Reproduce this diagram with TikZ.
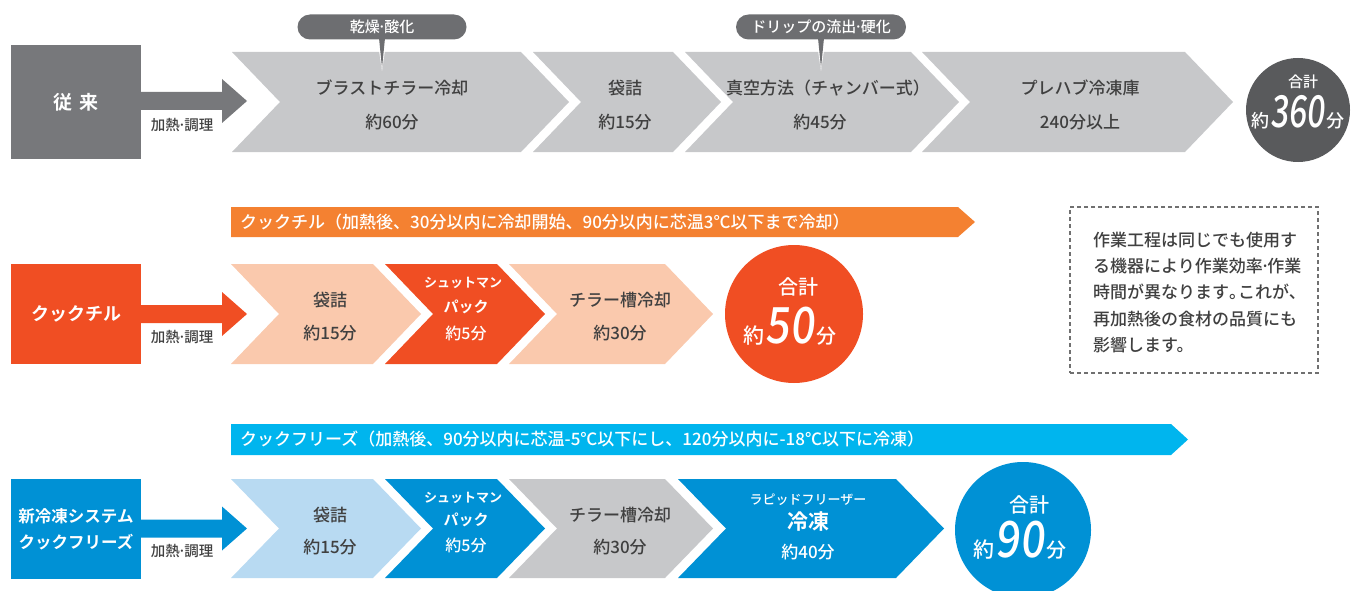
\documentclass[tikz,border=0pt]{standalone}
\usepackage{fontspec}
\setmainfont{Noto Sans CJK JP Medium}[BoldFont={Noto Sans CJK JP Bold}]
\newfontfamily\numA[FakeSlant=0.1,FakeStretch=0.85]{Noto Sans CJK JP Medium}
\newfontfamily\numB[FakeSlant=0.1,FakeStretch=0.72]{Noto Sans CJK JP Medium}
\newcommand\fs[1]{\fontsize{#1}{#1}\selectfont}
\newcommand\fsb[2]{\fontsize{#1}{#2}\selectfont}
\newcommand\md{\makebox[4.5pt]{·}}
\definecolor{gbox}{HTML}{77787B}
\definecolor{gchev}{HTML}{C7C8CA}
\definecolor{callg}{HTML}{6D6E71}
\definecolor{cgray}{HTML}{595A5C}
\definecolor{txt}{HTML}{404040}
\definecolor{orng}{HTML}{F48131}
\definecolor{redo}{HTML}{F04E23}
\definecolor{peach}{HTML}{FAC9AD}
\definecolor{cyanb}{HTML}{00B5EE}
\definecolor{blue}{HTML}{0091D5}
\definecolor{lblue}{HTML}{B8DAF2}
\definecolor{notec}{HTML}{707070}
\newcommand\chev[5]{\fill[#1] (#2,#4) -- (#3,#4) -- ({#3+48},{(#4+#5)/2}) -- (#3,#5) -- (#2,#5) -- ({#2+48},{(#4+#5)/2}) -- cycle;}
\tikzset{
  rowbox/.style={inner sep=0pt, minimum width=130pt, text=white, font=\bfseries\fs{18}, align=center},
  lbl/.style={inner sep=0pt, text=txt, font=\fs{17}},
  wlbl/.style={inner sep=0pt, text=white, font=\fs{16}},
  small/.style={inner sep=0pt, text=txt, font=\fs{14.5}},
  callbox/.style={fill=callg, rounded corners=12.5pt, minimum height=25pt, inner sep=0pt, text=white, font=\fs{15}},
  bantext/.style={inner sep=0pt, anchor=west, text=white, font=\fs{17}},
  tot/.style={circle, inner sep=0pt},
}
\begin{document}
\begin{tikzpicture}[x=1pt,y=-1pt]
\useasboundingbox (0,0) rectangle (1351,591);
% ---------------- row 1
\node[rowbox, fill=gbox, minimum height=114pt, font=\bfseries\fs{19}] (b1) at (76,102) {従\hspace{7pt}来};
\coordinate (a1s) at (141,101);
\fill[gbox] (a1s) ++(0,-9) -- ++(81,0) -- ++(0,-13) -- ++(25,22) -- ++(-25,22) -- ++(0,-13) -- ++(-81,0) -- cycle;
\node[small] (k1) at (182,125) {加熱\md 調理};
\chev{gchev}{232}{521}{52}{152}
\chev{gchev}{533}{673}{52}{152}
\chev{gchev}{685}{911}{52}{152}
\chev{gchev}{922}{1185}{52}{152}
\node[lbl] (p11) at (392,88) {ブラストチラー冷却};
\node[lbl] (q11) at (392,122) {約60分};
\node[lbl] (p12) at (625,88) {袋詰};
\node[lbl] (q12) at (625,122) {約15分};
\node[lbl] (p13) at (828,88) {真空方法（チャンバー式）};
\node[lbl] (q13) at (820,122) {約45分};
\node[lbl] (p14) at (1080,88) {プレハブ冷凍庫};
\node[lbl] (q14) at (1080,122) {240分以上};
% callouts
\node[callbox, minimum width=169pt] (c1) at (382,27) {乾燥\md 酸化};
\fill[white] (377.5,40) -- (386.5,40) -- (382,71) -- cycle;
\fill[callg] (379,38) -- (385,38) -- (382,68) -- cycle;
\node[callbox, minimum width=170pt] (c2) at (821,27) {ドリップの流出\md 硬化};
\fill[white] (816.5,40) -- (825.5,40) -- (821,71) -- cycle;
\fill[callg] (818,38) -- (824,38) -- (821,68) -- cycle;
% total 1
\node[tot, fill=cgray, minimum size=104pt] (t1) at (1298,110) {};
\node[inner sep=0pt, text=white, font=\fs{15}] (t1a) at (1303,82) {合計};
\node[inner sep=0pt, text=white, anchor=base] (t1b) at (1298,128) {\fs{18}約\hspace{1pt}{\numB\fs{44}360}\hspace{2pt}\fs{18}分};
% ---------------- row 2
\fill[orng] (231,207) -- (958,207) -- (975,222) -- (958,237) -- (231,237) -- cycle;
\node[bantext] (ban2) at (240,222) {クックチル（加熱後、30分以内に冷却開始、90分以内に芯温3℃以下まで冷却）};
\node[rowbox, fill=redo, minimum height=100pt] (b2) at (76,314) {クックチル};
\coordinate (a2s) at (141,314);
\fill[redo] (a2s) ++(0,-9) -- ++(81,0) -- ++(0,-13) -- ++(25,22) -- ++(-25,22) -- ++(0,-13) -- ++(-81,0) -- cycle;
\node[small] (k2) at (182,337) {加熱\md 調理};
\chev{peach}{231}{373}{264}{364}
\chev{redo}{385}{497}{264}{364}
\chev{peach}{509}{665}{264}{364}
\node[lbl] (p21) at (330,300) {袋詰};
\node[lbl] (q21) at (330,333) {約15分};
\node[inner sep=0pt, text=white, font=\bfseries\fs{13}] (p22) at (463,283) {シュットマン};
\node[inner sep=0pt, text=white, font=\bfseries\fs{15}] (r22) at (466,307) {パック};
\node[wlbl] (q22) at (466,333) {約5分};
\node[lbl] (p23) at (620,300) {チラー槽冷却};
\node[lbl] (q23) at (620,333) {約30分};
\node[tot, fill=redo, minimum size=138pt] (t2) at (794,314) {};
\node[inner sep=0pt, text=white, font=\fs{20}] (t2a) at (798,287) {合計};
\node[inner sep=0pt, text=white, anchor=base] (t2b) at (790,343) {\fs{21}約\hspace{1pt}{\numA\fs{50}50}\hspace{2pt}\fs{20}分};
% note
\node[draw=notec, dash pattern=on 4pt off 3pt, line width=1.2pt, minimum width=248pt, minimum height=166pt, inner sep=0pt] (note) at (1194,290) {};
\node[inner sep=0pt, anchor=west, align=left, text=txt, font=\fsb{17}{26.3}] (notet) at (1093,292.5) {作業工程は同じでも使用す\\る機器により作業効率\md 作業\\時間が異なります\makebox[9pt][l]{。}これが、\\再加熱後の食材の品質にも\\影響します。};
% ---------------- row 3
\fill[cyanb] (231,424) -- (1171,424) -- (1188,439.5) -- (1171,455) -- (231,455) -- cycle;
\node[bantext] (ban3) at (240,439.5) {クックフリーズ（加熱後、90分以内に芯温-5℃以下にし、120分以内に-18℃以下に冷凍）};
\node[rowbox, fill=blue, minimum height=100pt, font=\bfseries\fsb{16.5}{26}] (b3) at (76,529) {新冷凍システム\\クックフリーズ};
\coordinate (a3s) at (141,528.5);
\fill[blue] (a3s) ++(0,-9) -- ++(81,0) -- ++(0,-13) -- ++(25,22) -- ++(-25,22) -- ++(0,-13) -- ++(-81,0) -- cycle;
\node[small] (k3) at (182,551) {加熱\md 調理};
\chev{lblue}{231}{373}{479}{578}
\chev{blue}{385}{497}{479}{578}
\chev{gchev}{509}{665}{479}{578}
\chev{blue}{678}{896}{479}{578}
\node[lbl] (p31) at (330,515) {袋詰};
\node[lbl] (q31) at (330,547) {約15分};
\node[inner sep=0pt, text=white, font=\bfseries\fs{13}] (p32) at (463,498) {シュットマン};
\node[inner sep=0pt, text=white, font=\bfseries\fs{15}] (r32) at (466,520) {パック};
\node[wlbl] (q32) at (466,545) {約5分};
\node[lbl] (p33) at (620,515) {チラー槽冷却};
\node[lbl] (q33) at (620,547) {約30分};
\node[inner sep=0pt, text=white, font=\fs{13}] (p34) at (808,500) {ラピッドフリーザー};
\node[inner sep=0pt, text=white, font=\bfseries\fs{21}] (r34) at (808,522) {冷凍};
\node[inner sep=0pt, text=white, font=\fs{17}] (q34) at (808,552) {約40分};
\node[tot, fill=blue, minimum size=136pt] (t3) at (1023,530) {};
\node[inner sep=0pt, text=white, font=\fs{20}] (t3a) at (1029,505) {合計};
\node[inner sep=0pt, text=white, anchor=base] (t3b) at (1020,557) {\fs{21}約\hspace{1pt}{\numA\fs{50}90}\hspace{2pt}\fs{20}分};
\end{tikzpicture}
\end{document}
